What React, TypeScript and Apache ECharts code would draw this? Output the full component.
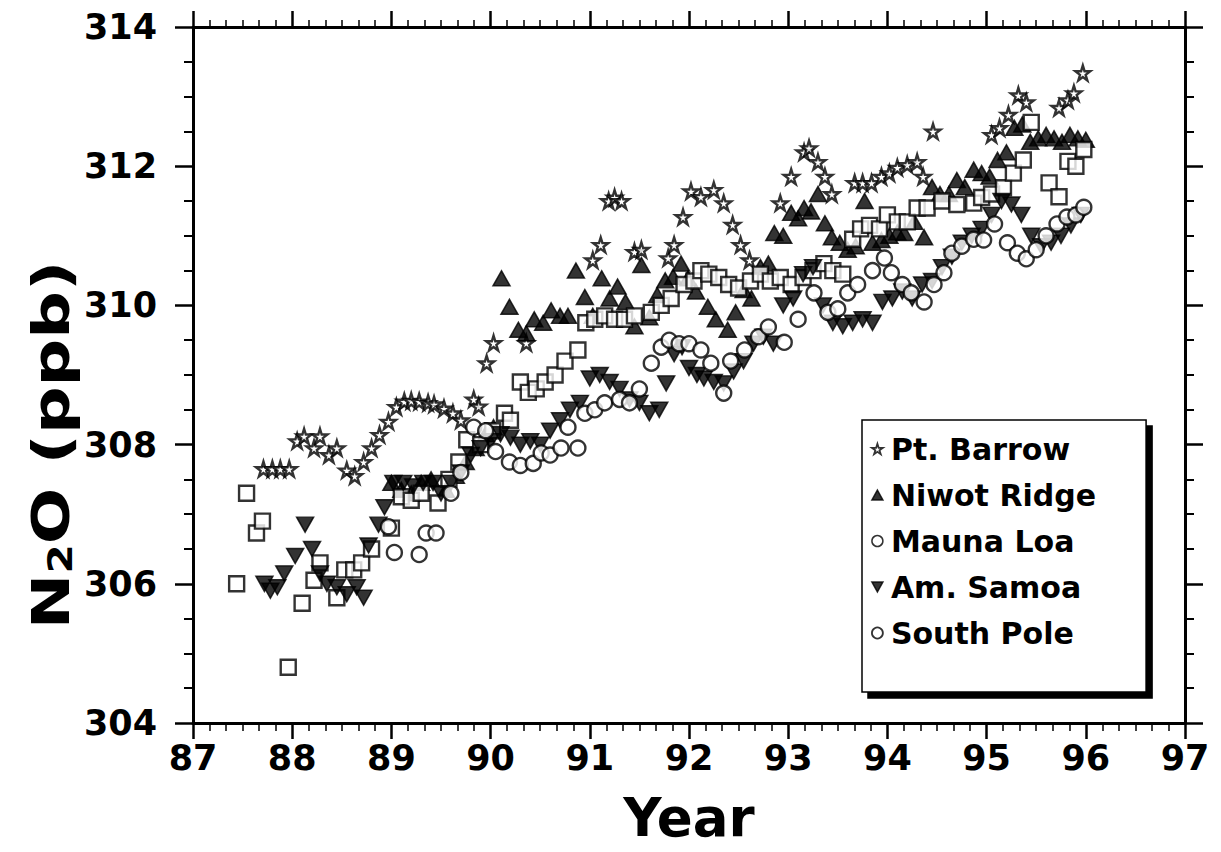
import React, { useEffect, useRef } from "react";
import * as echarts from "echarts";

const FONT = "'DejaVu Sans', 'Liberation Sans', sans-serif";

const xTicks = [87, 97, 1];
const yTicks = [304, 314, 2];

const barrow: number[][] = [
  [87.71, 307.65], [87.8, 307.65], [87.88, 307.65], [87.97, 307.65],
  [88.05, 308.05], [88.12, 308.12], [88.22, 307.95], [88.28, 308.12], [88.37, 307.85], [88.45, 307.95],
  [88.55, 307.63], [88.63, 307.55], [88.72, 307.75], [88.8, 307.95], [88.88, 308.14], [88.97, 308.33],
  [89.05, 308.54], [89.13, 308.62], [89.2, 308.63], [89.28, 308.62], [89.37, 308.6], [89.43, 308.58],
  [89.53, 308.52], [89.62, 308.45], [89.7, 308.35], [89.83, 308.65], [89.88, 308.55], [89.96, 309.17],
  [90.03, 309.46], [90.36, 309.46],
  [91.03, 310.65], [91.11, 310.87], [91.19, 311.5], [91.25, 311.55], [91.32, 311.5], [91.45, 310.77],
  [91.52, 310.8], [91.79, 310.68], [91.85, 310.87], [91.94, 311.27],
  [92.02, 311.64], [92.12, 311.56], [92.25, 311.66], [92.35, 311.47], [92.44, 311.16], [92.52, 310.87],
  [92.61, 310.65], [92.92, 311.47],
  [93.03, 311.85], [93.16, 312.2], [93.21, 312.26], [93.3, 312.06], [93.37, 311.85], [93.44, 311.6],
  [93.67, 311.76], [93.75, 311.76], [93.84, 311.76],
  [93.94, 311.85], [94.02, 311.9], [94.1, 311.98], [94.2, 312.02], [94.3, 312.06], [94.36, 311.85], [94.46, 312.5],
  [95.05, 312.45], [95.13, 312.55], [95.22, 312.74], [95.32, 313.02], [95.4, 312.92],
  [95.73, 312.84], [95.82, 312.95], [95.88, 313.05], [95.97, 313.34],
];

const niwot: number[][] = [
  [89.0, 307.45], [89.1, 307.35], [89.2, 307.3], [89.3, 307.45], [89.4, 307.5], [89.55, 307.35],
  [89.65, 307.55], [89.75, 307.75], [89.85, 307.95], [89.95, 308.15], [90.03, 308.25],
  [90.11, 310.39], [90.19, 309.98], [90.28, 309.65], [90.36, 309.6], [90.44, 309.8], [90.53, 309.75],
  [90.61, 309.93], [90.7, 309.85], [90.78, 309.85], [90.86, 310.5], [90.95, 310.12],
  [91.03, 309.85], [91.12, 310.39], [91.2, 310.1], [91.28, 310.27], [91.36, 310.05], [91.45, 309.7],
  [91.52, 310.58], [91.6, 309.83], [91.68, 310.15], [91.76, 310.36], [91.84, 310.41], [91.92, 310.6],
  [91.99, 310.39], [92.07, 310.2], [92.19, 309.98], [92.27, 309.8], [92.39, 309.65], [92.47, 309.9],
  [92.55, 310.22], [92.63, 310.1], [92.72, 310.55], [92.8, 310.6], [92.86, 311.04], [92.95, 311.0],
  [93.03, 311.33], [93.1, 311.25], [93.16, 311.4], [93.23, 311.35], [93.3, 311.6], [93.37, 311.18],
  [93.44, 310.98], [93.52, 310.9], [93.6, 310.8], [93.68, 310.85], [93.77, 311.5], [93.85, 310.9],
  [93.94, 310.94], [94.02, 311.0], [94.1, 311.05], [94.17, 311.04], [94.27, 311.2], [94.37, 310.98],
  [94.45, 311.7], [94.53, 311.6], [94.62, 311.6], [94.7, 311.8], [94.78, 311.7], [94.87, 311.95],
  [94.95, 311.9], [95.03, 311.85], [95.11, 312.09], [95.2, 312.2], [95.28, 312.55], [95.36, 312.6],
  [95.44, 312.35], [95.52, 312.4], [95.6, 312.45], [95.68, 312.4], [95.76, 312.35], [95.84, 312.45],
  [95.92, 312.4], [96.0, 312.38],
];

const maunaLoa: number[][] = [
  [87.44, 306.0], [87.54, 307.3], [87.64, 306.73], [87.7, 306.9], [87.96, 304.8], [88.1, 305.72],
  [88.22, 306.05], [88.28, 306.3], [88.45, 305.8], [88.53, 306.2], [88.62, 306.2], [88.7, 306.3],
  [88.8, 306.5], [89.0, 306.8], [89.1, 307.25], [89.2, 307.2], [89.3, 307.3], [89.47, 307.16],
  [89.58, 307.5], [89.68, 307.75], [89.76, 308.07], [89.9, 308.0], [90.02, 308.2], [90.14, 308.45],
  [90.2, 308.35], [90.3, 308.9], [90.38, 308.75], [90.46, 308.8], [90.55, 308.9], [90.65, 309.0],
  [90.75, 309.2], [90.88, 309.36], [90.96, 309.75], [91.05, 309.8], [91.15, 309.85], [91.25, 309.8],
  [91.35, 309.8], [91.45, 309.85], [91.62, 309.9], [91.72, 310.0], [91.82, 310.1], [91.95, 310.3],
  [92.05, 310.35], [92.12, 310.5], [92.2, 310.45], [92.3, 310.4], [92.4, 310.3], [92.5, 310.25],
  [92.62, 310.35], [92.72, 310.45], [92.82, 310.35], [92.92, 310.4], [93.03, 310.3], [93.15, 310.4],
  [93.25, 310.5], [93.36, 310.6], [93.45, 310.5], [93.55, 310.45], [93.65, 310.95], [93.73, 311.1],
  [93.82, 311.15], [93.92, 311.1], [94.0, 311.3], [94.1, 311.2], [94.2, 311.2], [94.3, 311.4],
  [94.4, 311.4], [94.55, 311.5], [94.7, 311.45], [94.87, 311.47], [94.95, 311.55], [95.05, 311.6],
  [95.17, 311.69], [95.27, 311.9], [95.37, 312.09], [95.45, 312.63], [95.63, 311.76], [95.73, 311.56],
  [95.82, 312.07], [95.9, 312.0], [95.98, 312.24],
];

const amSamoa: number[][] = [
  [87.72, 306.0], [87.78, 305.9], [87.85, 305.95], [87.92, 306.15], [88.03, 306.4], [88.13, 306.85],
  [88.2, 306.5], [88.28, 306.15], [88.35, 306.0], [88.45, 305.95], [88.55, 305.85], [88.65, 305.95],
  [88.72, 305.8], [88.77, 306.55], [88.87, 306.85], [88.93, 307.1],
  [89.02, 307.45], [89.12, 307.45], [89.22, 307.4], [89.32, 307.45], [89.42, 307.45], [89.5, 307.3],
  [89.6, 307.45], [89.7, 307.6], [89.8, 307.85], [89.9, 307.95],
  [90.0, 308.05], [90.1, 308.15], [90.2, 308.1], [90.3, 308.0], [90.4, 308.05], [90.5, 308.0],
  [90.6, 308.2], [90.7, 308.35], [90.8, 308.5], [90.9, 308.6],
  [91.0, 308.95], [91.1, 309.0], [91.2, 308.9], [91.3, 308.8], [91.4, 308.65], [91.5, 308.6],
  [91.6, 308.45], [91.7, 308.5], [91.77, 308.88], [91.85, 309.3], [91.93, 309.4],
  [92.0, 309.1], [92.08, 309.0], [92.15, 308.95], [92.25, 308.9], [92.35, 308.88], [92.45, 309.05],
  [92.55, 309.2], [92.65, 309.45], [92.75, 309.55], [92.85, 309.45], [92.95, 310.0],
  [93.05, 310.1], [93.15, 310.45], [93.25, 310.55], [93.35, 310.0], [93.45, 309.75], [93.55, 309.7],
  [93.65, 309.75], [93.75, 309.8], [93.85, 309.75], [93.95, 310.05],
  [94.05, 310.1], [94.15, 310.2], [94.25, 310.1], [94.35, 310.3], [94.45, 310.35], [94.55, 310.55],
  [94.65, 310.7], [94.75, 310.9], [94.85, 311.0], [94.95, 311.1],
  [95.05, 311.3], [95.15, 311.5], [95.25, 311.45], [95.35, 311.3], [95.45, 311.0], [95.55, 310.85],
  [95.65, 310.9], [95.75, 311.0], [95.85, 311.15], [95.95, 311.3],
];

const southPole: number[][] = [
  [88.97, 306.82], [89.03, 306.45], [89.28, 306.42], [89.35, 306.73], [89.45, 306.73], [89.6, 307.3],
  [89.7, 307.6], [89.83, 308.25], [89.95, 308.2], [90.05, 307.9], [90.19, 307.75], [90.3, 307.7],
  [90.43, 307.73], [90.51, 307.88], [90.6, 307.85], [90.71, 307.95], [90.78, 308.25], [90.88, 307.95],
  [90.95, 308.45], [91.05, 308.5], [91.15, 308.6], [91.3, 308.65], [91.4, 308.6], [91.5, 308.8],
  [91.62, 309.17], [91.72, 309.4], [91.8, 309.5], [91.9, 309.45], [92.0, 309.45], [92.12, 309.36],
  [92.22, 309.17], [92.35, 308.74], [92.42, 309.2], [92.56, 309.36], [92.7, 309.55], [92.8, 309.69],
  [92.96, 309.47], [93.1, 309.8], [93.26, 310.18], [93.4, 309.9], [93.5, 309.95], [93.6, 310.18],
  [93.7, 310.3], [93.85, 310.5], [93.97, 310.68], [94.04, 310.47], [94.15, 310.3], [94.24, 310.18],
  [94.37, 310.05], [94.47, 310.3], [94.57, 310.47], [94.65, 310.75], [94.75, 310.85], [94.87, 310.95],
  [94.97, 310.94], [95.08, 311.17], [95.21, 310.9], [95.31, 310.75], [95.4, 310.67], [95.5, 310.8],
  [95.6, 311.0], [95.71, 311.17], [95.81, 311.27], [95.9, 311.3], [95.98, 311.41],
];

const seriesNames = ["Pt. Barrow", "Niwot Ridge", "Mauna Loa", "Am. Samoa", "South Pole"];

const STAR = "path://M50,0 L61,35 L98,35 L68,57 L79,91 L50,70 L21,91 L32,57 L2,35 L39,35 Z";
const DOWN_TRI = "path://M0,0 L100,0 L50,90 Z";
const UP_TRI = "path://M50,0 L100,90 L0,90 Z";

export default function App() {
  const ref = useRef<HTMLDivElement>(null);
  useEffect(() => {
    if (!ref.current) return;
    const chart = echarts.init(ref.current, undefined, { renderer: "svg" });
    const axisLine = { show: true, onZero: false, lineStyle: { color: "#000", width: 3 } };
    const labelStyle = { fontSize: 35, fontWeight: "bold" as const, fontFamily: FONT, color: "#000" };
    const open = { color: "#fff", borderColor: "#000", borderWidth: 2.4 };
    const filled = { color: "#000", borderColor: "#000", borderWidth: 1.5 };
    const option: any = {
      animation: false,
      backgroundColor: "#fff",
      grid: { left: 193, right: 36, top: 27, bottom: 129, containLabel: false },
      xAxis: [
        {
          type: "value", min: xTicks[0], max: xTicks[1], interval: xTicks[2], position: "bottom",
          axisLine, splitLine: { show: false },
          axisTick: { show: true, length: 16, lineStyle: { color: "#000", width: 2.5 } },
          minorTick: { show: true, splitNumber: 6, length: 8, lineStyle: { color: "#000", width: 1.5 } },
          minorSplitLine: { show: false },
          axisLabel: { ...labelStyle, margin: 17 },
          name: "Year", nameLocation: "middle", nameGap: 68,
          nameTextStyle: { fontSize: 53, fontWeight: "bold", fontFamily: FONT, color: "#000" },
        },
        {
          type: "value", min: xTicks[0], max: xTicks[1], interval: xTicks[2], position: "top",
          axisLine, splitLine: { show: false },
          axisTick: { show: true, length: 16, lineStyle: { color: "#000", width: 2.5 } },
          minorTick: { show: true, splitNumber: 6, length: 7, lineStyle: { color: "#000", width: 1.5 } },
          axisLabel: { show: false },
        },
      ],
      yAxis: [
        {
          type: "value", min: yTicks[0], max: yTicks[1], interval: yTicks[2], position: "left",
          axisLine, splitLine: { show: false },
          axisTick: { show: true, length: 18, lineStyle: { color: "#000", width: 2.5 } },
          minorTick: { show: true, splitNumber: 4, length: 9, lineStyle: { color: "#000", width: 2 } },
          axisLabel: { ...labelStyle, margin: 36 },
        },
        {
          type: "value", min: yTicks[0], max: yTicks[1], interval: yTicks[2], position: "right",
          axisLine, splitLine: { show: false },
          axisTick: { show: true, length: 18, lineStyle: { color: "#000", width: 2.5 } },
          minorTick: { show: true, splitNumber: 4, length: 9, lineStyle: { color: "#000", width: 2 } },
          axisLabel: { show: false },
        },
      ],
      legend: {
        orient: "vertical", left: 862, top: 420,
        padding: [14, 50, 44, 9],
        itemGap: 16, itemWidth: 11, itemHeight: 11,
        backgroundColor: "#fff", borderColor: "#000", borderWidth: 1.5,
        shadowColor: "#000", shadowBlur: 0, shadowOffsetX: 6, shadowOffsetY: 6,
        textStyle: { fontSize: 30, fontWeight: "bold", fontFamily: FONT, color: "#000", padding: [0, 0, 0, 3] },
        data: [
          { name: seriesNames[0], icon: STAR, itemStyle: { ...open, borderWidth: 1.8 } },
          { name: seriesNames[1], icon: UP_TRI, itemStyle: filled },
          { name: seriesNames[2], icon: "circle", itemStyle: { ...open, borderWidth: 1.5 } },
          { name: seriesNames[3], icon: DOWN_TRI, itemStyle: filled },
          { name: seriesNames[4], icon: "circle", itemStyle: { ...open, borderWidth: 1.8 } },
        ],
      },
      graphic: [
        {
          type: "text", x: 48, y: 445, rotation: Math.PI / 2, scaleX: 1.28, scaleY: 1,
          style: {
            text: "{a|N}{s|2}{a|O (ppb)}",
            align: "center", verticalAlign: "middle",
            fill: "#000",
            rich: {
              a: { fontSize: 52, fontWeight: "bold", fontFamily: FONT, fill: "#000", lineHeight: 58, verticalAlign: "bottom" },
              s: { fontSize: 33, fontWeight: "bold", fontFamily: FONT, fill: "#000", lineHeight: 26, verticalAlign: "bottom" },
            },
          },
        },
      ],
      series: [
        { name: seriesNames[0], type: "scatter", data: barrow, symbol: STAR, symbolSize: 15, itemStyle: open, z: 2 },
        { name: seriesNames[1], type: "scatter", data: niwot, symbol: UP_TRI, symbolSize: [17, 15], itemStyle: filled, z: 2 },
        { name: seriesNames[2], type: "scatter", data: maunaLoa, symbol: "rect", symbolSize: 15, itemStyle: open, z: 2 },
        { name: seriesNames[3], type: "scatter", data: amSamoa, symbol: DOWN_TRI, symbolSize: [17, 15], itemStyle: filled, z: 2 },
        { name: seriesNames[4], type: "scatter", data: southPole, symbol: "circle", symbolSize: 15, itemStyle: open, z: 2 },
      ],
    };
    chart.setOption(option);
    return () => chart.dispose();
  }, []);
  return <div ref={ref} style={{ position: "fixed", left: 0, top: 0, width: 1221, height: 852, background: "#fff" }} />;
}
